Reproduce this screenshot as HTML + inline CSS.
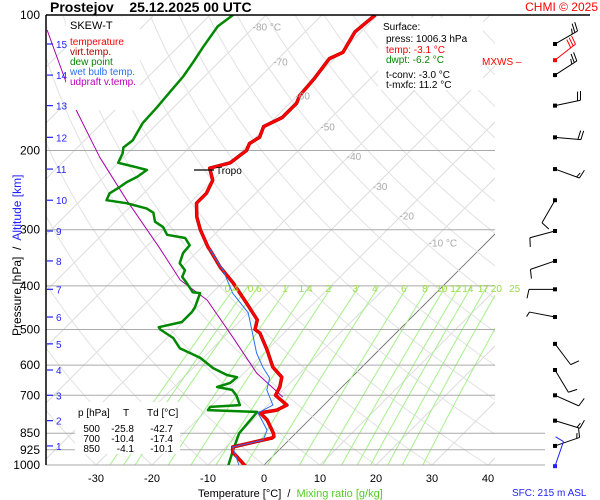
<!DOCTYPE html>
<html><head><meta charset="utf-8"><style>
body{margin:0;background:#fff}
svg{display:block;font-family:"Liberation Sans",sans-serif}
svg text{white-space:pre}
</style></head><body>
<svg id="c" width="600" height="500" viewBox="0 0 600 500" xmlns="http://www.w3.org/2000/svg">
<rect width="600" height="500" fill="#fff"/>
<defs><clipPath id="pc"><rect x="46" y="15" width="449" height="450"/></clipPath></defs>
<g id="bg" clip-path="url(#pc)"></g>
<g id="grid"></g>
<g id="series" clip-path="url(#pc)"></g>
<line x1="46" y1="15" x2="46" y2="465" stroke="#000" stroke-width="1.5"/>
<line x1="46" y1="15" x2="590" y2="15" stroke="#000" stroke-width="1.5"/>
<text x="50" y="12" font-size="14" font-weight="bold">Prostejov    25.12.2025 00 UTC</text>
<text x="598" y="11" font-size="12" fill="#f00" text-anchor="end">CHMI © 2025</text>
<g>
<rect x="66" y="17" width="74" height="93" fill="#fff"/>
<text x="70" y="29" font-size="11">SKEW-T</text>
<text x="70" y="45" font-size="10" fill="#f00">temperature</text>
<text x="70" y="55" font-size="10" fill="#a00">virt.temp.</text>
<text x="70" y="65" font-size="10" fill="#080">dew point</text>
<text x="70" y="75" font-size="10" fill="#2a6ef0">wet bulb temp.</text>
<text x="70" y="85" font-size="10" fill="#b0b">udpraft v.temp.</text>
</g>
<g>
<rect x="378" y="18" width="105" height="72" fill="#fff"/>
<text x="383" y="30" font-size="10">Surface:</text>
<text x="386" y="42" font-size="10">press: 1006.3 hPa</text>
<text x="386" y="53" font-size="10" fill="#f00">temp: -3.1 °C</text>
<text x="386" y="63" font-size="10" fill="#080">dwpt: -6.2 °C</text>
<text x="386" y="78" font-size="10">t-conv: -3.0 °C</text>
<text x="386" y="88" font-size="10">t-mxfc: 11.2 °C</text>
</g>
<text x="482" y="65" font-size="10" fill="#f00">MXWS –</text>
<g>
<rect x="75" y="402" width="105" height="52" fill="#fff"/>
<text x="78" y="416" font-size="10">p [hPa]</text><text x="123" y="416" font-size="10">T</text><text x="147" y="416" font-size="10">Td [°C]</text>
<text x="100" y="432" font-size="10" text-anchor="end">500</text><text x="134" y="432" font-size="10" text-anchor="end">-25.8</text><text x="173" y="432" font-size="10" text-anchor="end">-42.7</text>
<text x="100" y="442" font-size="10" text-anchor="end">700</text><text x="134" y="442" font-size="10" text-anchor="end">-10.4</text><text x="173" y="442" font-size="10" text-anchor="end">-17.4</text>
<text x="100" y="452" font-size="10" text-anchor="end">850</text><text x="134" y="452" font-size="10" text-anchor="end">-4.1</text><text x="173" y="452" font-size="10" text-anchor="end">-10.1</text>
</g>
<g id="labels"></g>
<g id="wind"></g>
<text transform="translate(21,336) rotate(-90)" font-size="12">Pressure [hPa]  /  <tspan fill="#22f">Altitude [km]</tspan></text>
<text x="198" y="497" font-size="11">Temperature [°C]  /  <tspan fill="#5c2">Mixing ratio [g/kg]</tspan></text>
<text x="512" y="496" font-size="10" fill="#22f">SFC: 215 m ASL</text>
</svg>
<script>
const presLevels=[100,200,300,400,500,600,700,850,925,1000];
const tempTicks=[-30,-20,-10,0,10,20,30,40];
const altKm=[1,2,3,4,5,6,7,8,9,10,11,12,13,14,15];
const altP=[907,797,700,615,538,469,407,352,302,258,220,187,159,136,116];
const isoLabels=[-80,-70,-60,-50,-40,-30,-20,-10];
const isoLabelP=[106,127,151,177,206,240,279,320];
const mixRatios=[0.4,0.5,0.6,1,1.4,2,3,4,6,8,10,12,14,17,20,25];
const tP=[1006,936,912,893,871,865,850,794,766,755,736,700,671,638,606,555,509,500,476,437,394,363,333,328,300,281,262,249,233,219,213,200,193,187,177,169,157,151,139,125,121,109,100];
const tT=[-3.1,-7.9,-8.8,-6.4,-3.4,-3.3,-4.0,-7.5,-10.0,-7.5,-6.6,-10.4,-11.1,-12.5,-15.9,-20.0,-24.3,-25.8,-27.1,-32.0,-38.0,-43.2,-48.0,-48.9,-53.4,-56.3,-58.8,-58.8,-60.0,-62.7,-60.0,-59.3,-60.0,-59.3,-60.5,-58.8,-58.8,-59.6,-60.0,-60.9,-59.6,-61.1,-60.5];
const dP=[1006,926,850,762,755,743,736,700,681,671,657,638,631,609,578,550,522,500,494,481,469,457,446,415,413,394,382,369,356,338,325,313,308,296,288,275,269,262,258,249,241,235,229,221,218,213,203,197,190,174,160,148,137,127,118,106,100];
const dT=[-6.2,-8.2,-10.1,-10.7,-19.8,-20.0,-15.0,-17.4,-19.1,-22.3,-20.7,-20.5,-22.7,-26.4,-30.5,-35.9,-38.9,-42.7,-43.4,-40.2,-40.2,-40.2,-40.5,-42.1,-43.6,-46.3,-48.2,-48.9,-51.1,-52.3,-52.5,-54.6,-58.4,-60.5,-62.9,-64.8,-66.8,-71.3,-75.4,-76.1,-75.4,-75.0,-74.1,-73.6,-75.9,-80.0,-80.9,-81.8,-81.4,-82.7,-83.0,-83.4,-83.8,-84.6,-85.5,-86.6,-85.9];
const wP=[1006,912,880,836,766,736,681,641,606,564,501,459,415,369,330];
const wT=[-4.2,-8.8,-4.6,-5.7,-10.4,-9.1,-12.9,-14.5,-17.7,-21.3,-26.3,-30.0,-36.3,-42.1,-48.5];
const uP=[706,625,520,430,388,330,258,207,163,108];
const uT=[-8.8,-17.7,-28.4,-39.6,-48.0,-57.3,-71.8,-84.3,-96.8,-116.4];
const windP=[116,126,136,159,187,220,258,302,352,407,469,538,615,700,797,907,1006];
const windDir=[60,52,57,78,95,110,210,255,251,270,281,143,149,114,107,71,19];
const windSpd=[25,30,25,20,20,15,10,10,10,10,5,10,10,10,15,15,10];

const NS='http://www.w3.org/2000/svg';
function Y(p){return 15+450*Math.log10(p/100);}
function X(T,p){return 264+5.6*T+(465-Y(p));}
function mk(tag,attrs,parent){const e=document.createElementNS(NS,tag);for(const k in attrs)e.setAttribute(k,attrs[k]);parent.appendChild(e);return e;}
const bg=document.getElementById('bg'),grid=document.getElementById('grid'),ser=document.getElementById('series'),lab=document.getElementById('labels'),wind=document.getElementById('wind');
for(let T=-150;T<=40;T+=10){
  const l=mk('line',{x1:X(T,1000),y1:Y(1000),x2:X(T,100),y2:Y(100),stroke:T===0?'#666':'#ddd','stroke-width':T===0?0.8:1},bg);
  
  
}
for(let th=-40;th<=260;th+=10){
  let pts=[];
  for(let p=1000;p>=100;p-=10){const T=(th+273.15)*Math.pow(p/1000,0.286)-273.15;pts.push(X(T,p).toFixed(1)+','+Y(p).toFixed(1));}
  const l=mk('polyline',{points:pts.join(' '),fill:'none',stroke:'#e2e2e2','stroke-width':1},bg);
  
  
}
function tdFromW(w,p){const e=w*p/(622+w);const g=Math.log(e/6.112);return 243.5*g/(17.67-g);}
mixRatios.forEach(w=>{
  let pts=[];
  for(let p=1000;p>=400;p-=20)pts.push(X(tdFromW(w,p),p).toFixed(1)+','+Y(p).toFixed(1));
  const l=mk('polyline',{points:pts.join(' '),fill:'none',stroke:'#a6f08a','stroke-width':1},bg);
  
  
  if(w===0.5)return;
  const t=mk('text',{x:X(tdFromW(w,400),400)-4,y:Y(400)+6,'font-size':10,fill:'#9d4','text-anchor':'middle'},lab);t.textContent=w;
  
  
});
isoLabels.forEach((T,i)=>{const p=isoLabelP[i];
  const t=mk('text',{x:X(T,p)-2,y:Y(p)+4,'font-size':10,fill:'#aaa'},lab);t.textContent=T+(i===0||i===isoLabels.length-1?' °C':'');
  
  
});
presLevels.forEach(p=>{
  const y=Y(p);
  const l=mk('line',{x1:46,y1:y,x2:p>=850?545:495,y2:y,stroke:'#aaa','stroke-width':1},grid);
  
  
  const t=mk('text',{x:40,y:y+4,'font-size':12,'text-anchor':'end'},lab);t.textContent=p;
  
  
});
tempTicks.forEach(T=>{
  const t=mk('text',{x:X(T,1000),y:482,'font-size':11,'text-anchor':'middle'},lab);t.textContent=T;
  
  
});
altKm.forEach((k,i)=>{const y=Y(altP[i]);
  const l=mk('line',{x1:47,y1:y,x2:53,y2:y,stroke:'#22f','stroke-width':1.2},lab);
  
  
  const t=mk('text',{x:56,y:y+4,'font-size':10,fill:'#22f'},lab);t.textContent=k;
  
  
});
function line(P,T,color,w,name){
  const pts=P.map((p,i)=>X(T[i],p).toFixed(1)+','+Y(p).toFixed(1)).join(' ');
  const l=mk('polyline',{points:pts,fill:'none',stroke:color,'stroke-width':w,'stroke-linejoin':'round'},ser);
  
  
}
line(uP,uT,'#a0a','1','updraft-line');
line(dP,dT,'#080','2.5','dewpoint-line');
line(tP,tT,'#a00','3.5','virtual-temperature-line');
line(tP,tT,'#f00','2.5','temperature-line');
line(wP,wT,'#2a6ef0','1','wet-bulb-line');
const tr=mk('line',{x1:194,y1:Y(221),x2:214,y2:Y(221),stroke:'#000','stroke-width':1.2},lab);


const trt=mk('text',{x:216,y:Y(221)+4,'font-size':10},lab);trt.textContent='Tropo';


windP.forEach((p,i)=>{
  const x0=555,y0=Y(p),d=windDir[i]*Math.PI/180,L=26;
  const col=i===1?'#f00':(i===windP.length-1?'#22f':'#000');
  const ux=Math.sin(d),uy=-Math.cos(d);
  const x1=x0+L*ux,y1=y0+L*uy;
  const g=mk('g',{stroke:col,'stroke-width':1,fill:'none'},wind);
  
  
  mk('line',{x1:x0,y1:y0,x2:x1,y2:y1},g);
  mk('rect',{x:x0-2,y:y0-2,width:4,height:4,fill:col,stroke:'none'},g);
  let s=windSpd[i],k=0;
  const px=uy,py=-ux;
  while(s>=5){const full=s>=10;const bl=full?9:5;
    const bx=x1-k*3*ux,by=y1-k*3*uy;
    mk('line',{x1:bx,y1:by,x2:bx+bl*px+2*ux,y2:by+bl*py+2*uy},g);
    s-=full?10:5;k++;}
});
</script>
</body></html>
